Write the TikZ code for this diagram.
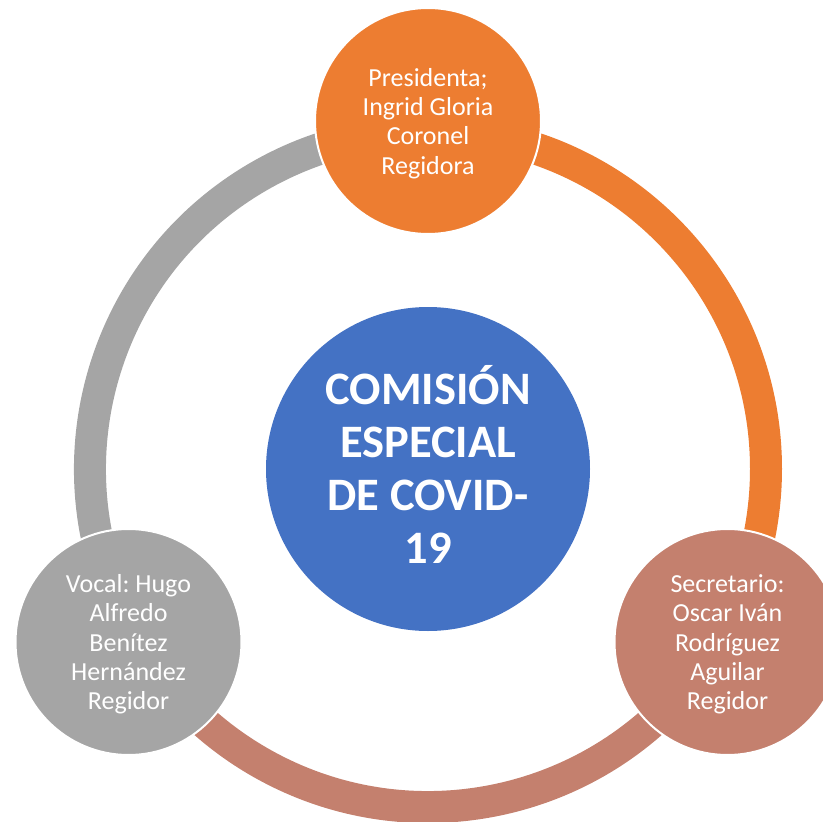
\documentclass[tikz,border=0pt]{standalone}
\usepackage{fontspec}
\setmainfont{Carlito}
\frenchspacing
\definecolor{corange}{HTML}{ED7D31}
\definecolor{cgray}{HTML}{A5A5A5}
\definecolor{cbrown}{HTML}{C4806E}
\definecolor{cblue}{HTML}{4472C4}
\begin{document}
\begin{tikzpicture}[x=1pt,y=-1pt,
  ringarc/.style={line width=32pt},
  member/.style={circle, minimum size=226pt, inner sep=0pt, draw=white, line width=2pt,
    fill=#1, text=white, align=center, font=\fontsize{26}{29.3}\selectfont},
  hub/.style={circle, minimum size=324pt, inner sep=0pt, fill=cblue,
    text=white, align=center, font=\bfseries\fontsize{46.5}{53}\selectfont}]
\useasboundingbox (0,0) rectangle (823,822);
\clip (0,0) rectangle (823,822);
\coordinate (c) at (428,469);
\draw[ringarc, corange] (c) ++(90:338pt) arc[start angle=90, end angle=-30, radius=338pt];
\draw[ringarc, cbrown] (c) ++(-30:338pt) arc[start angle=-30, end angle=-150, radius=338pt];
\draw[ringarc, cgray] (c) ++(210:338pt) arc[start angle=210, end angle=90, radius=338pt];
\node[hub] (center) at (428,469) {};
\node[text=white, align=center, font=\bfseries\fontsize{46.5}{53}\selectfont, inner sep=0pt, yshift=5pt] (centertext) at (center) {COMISIÓN\\ESPECIAL\\DE COVID-\\19};
\node[member=corange] (pres) at (428,121) {};
\node[text=white, align=center, font=\fontsize{26}{29.3}\selectfont, inner sep=0pt, yshift=-2.5pt] (prestext) at (pres) {Presidenta;\\Ingrid Gloria\\Coronel\\Regidora};
\node[member=cbrown] (secr) at (727.5,642) {};
\node[text=white, align=center, font=\fontsize{26}{29.3}\selectfont, inner sep=0pt, yshift=-2.5pt] (secrtext) at (secr) {Secretario:\\Oscar Iván\\Rodríguez\\Aguilar\\Regidor};
\node[member=cgray] (vocal) at (128.5,642) {};
\node[text=white, align=center, font=\fontsize{26}{29.3}\selectfont, inner sep=0pt, yshift=-2.5pt] (vocaltext) at (vocal) {Vocal: Hugo\\Alfredo\\Benítez\\Hernández\\Regidor};
\end{tikzpicture}
\end{document}
